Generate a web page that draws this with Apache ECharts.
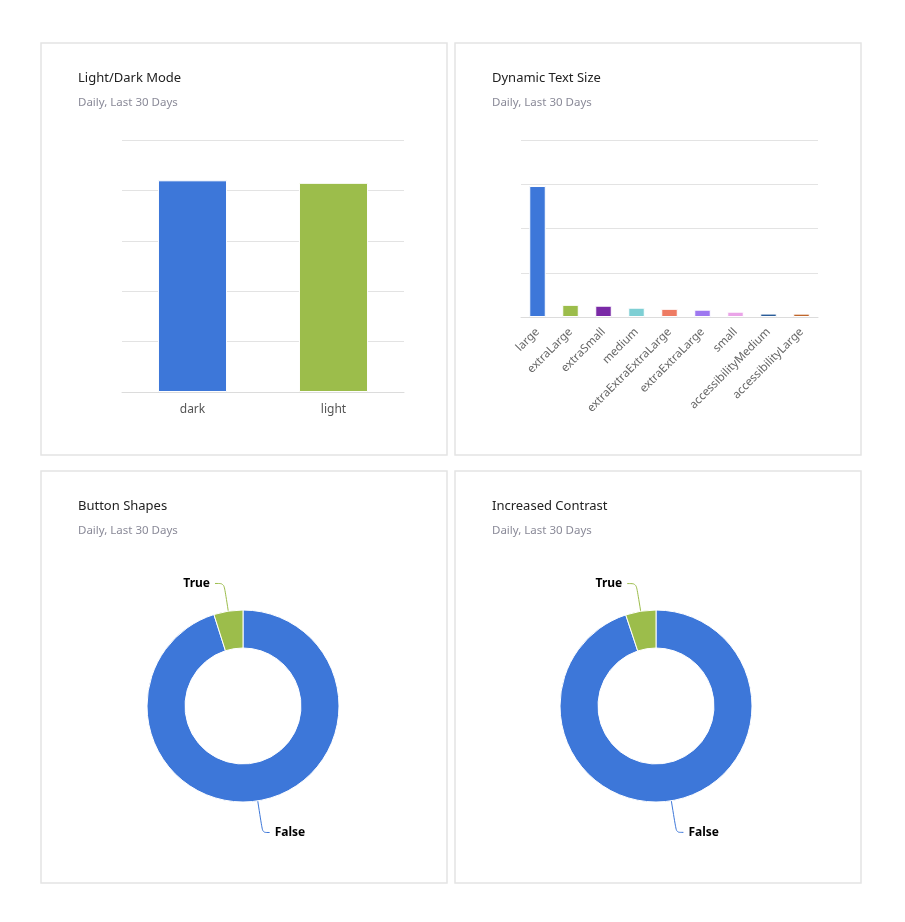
<!DOCTYPE html>
<html>
<head>
<meta charset="utf-8">
<script src="https://cdn.jsdelivr.net/npm/echarts@6/dist/echarts.min.js"></script>
<style>
html,body{margin:0;padding:0;background:#fff;}
#c{width:905px;height:922px;}
</style>
</head>
<body>
<div id="c"></div>
<script>
// ---- data ----
const modeCategories = ['dark', 'light'];
const modeValues = [84, 83];
const modeColors = ['#3d77d9', '#9cbd4b'];

const textSizeCategories = ['large', 'extraLarge', 'extraSmall', 'medium', 'extraExtraExtraLarge', 'extraExtraLarge', 'small', 'accessibilityMedium', 'accessibilityLarge'];
const textSizeValues = [2960, 275, 255, 210, 185, 165, 120, 78, 76];
const textSizeColors = ['#3d77d9', '#9cbd4b', '#7a2aa6', '#7ecfd4', '#ee7b63', '#9e78f0', '#eaa4e8', '#2a5c99', '#c0662b'];

const buttonShapesLabels = ['False', 'True'];
const buttonShapesValues = [95.1, 4.9];
const contrastLabels = ['False', 'True'];
const contrastValues = [94.9, 5.1];
const pieColors = ['#3d77d9', '#9cbd4b'];

const titles = ['Light/Dark Mode', 'Dynamic Text Size', 'Button Shapes', 'Increased Contrast'];
const subtitle = 'Daily, Last 30 Days';

const FONT = '"Noto Sans", sans-serif';
const chart = echarts.init(document.getElementById('c'), null, {renderer: 'canvas'});

const panels = [[41, 43], [455, 43], [41, 471], [455, 471]];

function mkTitle(i) {
  return {
    text: titles[i],
    subtext: subtitle,
    left: panels[i][0] + 32,
    top: panels[i][1] + 24,
    itemGap: 12,
    textStyle: {fontFamily: FONT, fontSize: 13, fontWeight: 'normal', color: '#222'},
    subtextStyle: {fontFamily: FONT, fontSize: 11.5, color: '#8a8a98'}
  };
}

function mkPie(names, values, center) {
  return {
    type: 'pie',
    center: center,
    radius: [58, 96],
    startAngle: 90,
    clockwise: true,
    avoidLabelOverlap: false,
    itemStyle: {borderColor: '#fff', borderWidth: 1},
    label: {formatter: '{b}', fontFamily: FONT, fontSize: 12, fontWeight: 'bold', color: '#000'},
    labelLine: {length: 28, length2: 7, smooth: true, lineStyle: {width: 1}},
    emphasis: {disabled: true},
    data: names.map((n, k) => ({
      name: n, value: values[k], itemStyle: {color: pieColors[k]},
      labelLine: n === 'False' ? {length: 32, length2: 7} : {length: 28, length2: 9}
    }))
  };
}

const option = {
  animation: false,
  backgroundColor: '#fff',
  textStyle: {fontFamily: FONT},
  graphic: panels.map(p => ({
    type: 'rect',
    shape: {x: p[0], y: p[1], width: 406, height: 412},
    style: {fill: 'none', stroke: '#e4e4e4', lineWidth: 1.5},
    silent: true,
    z: -1
  })),
  title: [0, 1, 2, 3].map(mkTitle),
  grid: [
    {left: 122, right: 905 - 404, top: 140, bottom: 922 - 392},
    {left: 521, right: 905 - 818, top: 140, bottom: 922 - 317}
  ],
  xAxis: [
    {
      gridIndex: 0, type: 'category', data: modeCategories,
      axisLine: {lineStyle: {color: '#dcdcdc'}},
      axisTick: {show: false},
      axisLabel: {color: '#555', fontSize: 12, margin: 12, fontFamily: FONT}
    },
    {
      gridIndex: 1, type: 'category', data: textSizeCategories,
      axisLine: {lineStyle: {color: '#dcdcdc'}},
      axisTick: {show: false},
      axisLabel: {color: '#666', fontSize: 11.5, rotate: 45, margin: 13, interval: 0, fontFamily: FONT}
    }
  ],
  yAxis: [
    {
      gridIndex: 0, type: 'value', min: 0, max: 100, interval: 20,
      axisLabel: {show: false}, axisLine: {show: false}, axisTick: {show: false},
      splitLine: {lineStyle: {color: '#e3e3e3'}}
    },
    {
      gridIndex: 1, type: 'value', min: 0, max: 4000, interval: 1000,
      axisLabel: {show: false}, axisLine: {show: false}, axisTick: {show: false},
      splitLine: {lineStyle: {color: '#e3e3e3'}}
    }
  ],
  series: [
    {
      type: 'bar', xAxisIndex: 0, yAxisIndex: 0, barWidth: '49%',
      itemStyle: {borderColor: '#fff', borderWidth: 1},
      emphasis: {disabled: true},
      data: modeValues.map((v, k) => ({value: v, itemStyle: {color: modeColors[k]}}))
    },
    {
      type: 'bar', xAxisIndex: 1, yAxisIndex: 1, barWidth: '50%',
      itemStyle: {borderColor: '#fff', borderWidth: 1},
      emphasis: {disabled: true},
      data: textSizeValues.map((v, k) => ({value: v, itemStyle: {color: textSizeColors[k]}}))
    },
    mkPie(buttonShapesLabels, buttonShapesValues, [243, 706]),
    mkPie(contrastLabels, contrastValues, [656, 706])
  ]
};
chart.setOption(option);
</script>
</body>
</html>
